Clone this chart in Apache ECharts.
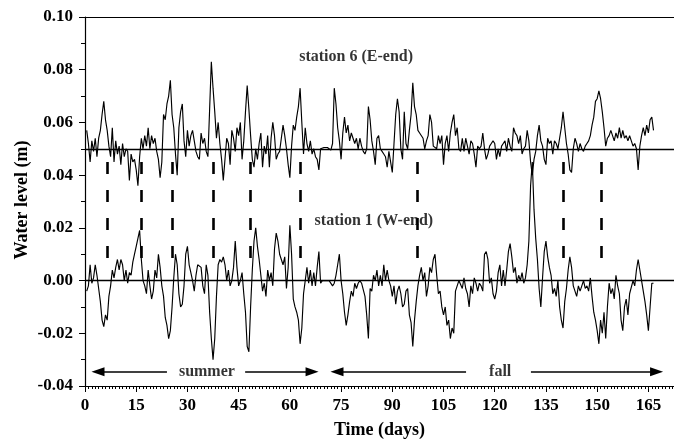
<!DOCTYPE html>
<html>
<head>
<meta charset="utf-8">
<script src="https://cdn.jsdelivr.net/npm/echarts@6/dist/echarts.min.js"></script>
<style>
  html, body { margin: 0; padding: 0; background: #fff; }
  #chart { width: 674px; height: 444px; }
</style>
</head>
<body>
<div id="chart"></div>
<script>
// Sampling grid of the water-level records (days)
const T0 = 0.5;
const STEP = 0.5;

// Station 6 (east end) water level, m
const station6 = [
  0.057,0.052,0.045,0.053,0.049,0.054,0.047,0.054,0.057,0.063,
  0.068,0.061,0.057,0.051,0.047,0.058,0.045,0.053,0.048,0.051,
  0.044,0.052,0.047,0.050,0.049,0.038,0.048,0.045,0.046,0.042,
  0.036,0.047,0.054,0.050,0.055,0.051,0.058,0.050,0.055,0.052,
  0.054,0.049,0.046,0.039,0.045,0.063,0.061,0.067,0.070,0.076,
  0.063,0.058,0.048,0.040,0.058,0.064,0.067,0.053,0.047,0.057,
  0.051,0.055,0.057,0.053,0.049,0.047,0.046,0.056,0.052,0.054,
  0.049,0.047,0.065,0.083,0.073,0.064,0.054,0.060,0.052,0.046,
  0.038,0.046,0.054,0.052,0.044,0.057,0.054,0.049,0.058,0.055,
  0.060,0.046,0.053,0.064,0.074,0.065,0.055,0.046,0.043,0.050,
  0.046,0.052,0.056,0.043,0.051,0.048,0.055,0.043,0.054,0.060,
  0.055,0.046,0.048,0.049,0.054,0.059,0.055,0.050,0.044,0.039,
  0.051,0.059,0.057,0.062,0.066,0.073,0.060,0.048,0.058,0.052,
  0.049,0.053,0.048,0.050,0.047,0.046,0.042,0.050,0.0505,0.0505,
  0.0505,0.0505,0.0505,0.0495,0.052,0.073,0.067,0.058,0.053,0.046,
  0.056,0.062,0.056,0.059,0.053,0.056,0.054,0.052,0.054,0.050,
  0.054,0.051,0.049,0.048,0.050,0.066,0.061,0.053,0.049,0.044,
  0.054,0.055,0.050,0.049,0.048,0.047,0.043,0.049,0.045,0.041,
  0.052,0.063,0.069,0.064,0.050,0.046,0.064,0.052,0.050,0.057,
  0.063,0.075,0.066,0.063,0.057,0.056,0.056,0.054,0.050,0.053,
  0.055,0.063,0.060,0.051,0.051,0.050,0.055,0.052,0.055,0.044,
  0.052,0.055,0.049,0.056,0.060,0.063,0.055,0.058,0.050,0.049,
  0.054,0.049,0.054,0.051,0.048,0.053,0.052,0.048,0.043,0.051,
  0.050,0.051,0.056,0.050,0.046,0.048,0.051,0.052,0.053,0.052,
  0.046,0.050,0.047,0.051,0.052,0.053,0.049,0.054,0.051,0.049,
  0.058,0.056,0.055,0.052,0.055,0.048,0.050,0.051,0.057,0.053,
  0.045,0.040,0.046,0.049,0.055,0.059,0.053,0.051,0.046,0.044,
  0.054,0.052,0.053,0.048,0.053,0.052,0.050,0.054,0.058,0.064,
  0.058,0.052,0.048,0.042,0.041,0.050,0.054,0.052,0.049,0.052,
  0.050,0.049,0.051,0.052,0.053,0.055,0.059,0.062,0.068,0.069,
  0.072,0.069,0.064,0.058,0.051,0.054,0.055,0.057,0.055,0.053,
  0.056,0.054,0.058,0.054,0.057,0.054,0.055,0.053,0.055,0.053,
  0.051,0.052,0.050,0.042,0.051,0.055,0.058,0.055,0.059,0.056,
  0.061,0.062,0.057
];

// Station 1 (west end) water level, m
const station1 = [
  -0.004,-0.002,0.006,-0.001,0.001,0.006,0.002,-0.003,-0.008,-0.015,
  -0.0175,-0.013,-0.015,-0.006,-0.002,0.004,0.001,0.005,0.008,0.004,
  0.008,0.006,0.000,0.004,-0.001,0.003,0.002,0.007,0.010,0.013,
  0.016,0.019,0.008,0.000,-0.002,-0.005,0.004,-0.002,-0.007,-0.004,
  0.004,0.001,0.010,0.005,-0.002,-0.006,-0.014,-0.017,-0.022,-0.019,
  -0.010,0.001,0.010,0.006,-0.005,-0.010,-0.009,-0.002,0.010,0.013,
  0.006,0.003,0.000,-0.004,0.002,0.006,0.006,0.005,-0.002,-0.005,
  0.006,0.002,-0.012,-0.022,-0.030,-0.022,-0.006,0.006,0.008,0.007,
  0.009,0.006,0.000,0.004,-0.002,0.000,0.005,0.015,0.005,-0.002,
  0.000,0.003,-0.005,-0.012,-0.025,-0.027,-0.010,0.004,0.015,0.020,
  0.013,0.008,0.002,-0.004,-0.001,-0.006,0.004,0.000,0.003,-0.002,
  0.012,0.018,0.015,0.010,0.008,0.006,0.009,-0.003,0.005,0.021,
  0.010,-0.007,-0.010,-0.012,-0.015,-0.024,-0.018,-0.005,0.000,0.005,
  -0.001,0.004,-0.002,0.003,-0.002,0.005,0.011,-0.001,0.000,0.000,
  0.000,0.000,0.000,0.000,-0.002,-0.001,0.002,0.006,0.010,0.000,
  -0.005,-0.012,-0.017,-0.013,-0.008,-0.004,-0.006,-0.001,-0.003,-0.001,
  0.000,-0.001,-0.001,-0.006,-0.013,-0.022,-0.003,-0.004,0.002,0.000,
  0.004,-0.002,0.002,-0.002,0.006,0.000,0.004,0.000,-0.002,-0.006,
  -0.002,-0.009,-0.004,-0.002,-0.005,-0.010,-0.009,-0.004,-0.003,-0.013,
  -0.016,-0.025,-0.015,-0.008,-0.002,0.002,0.005,0.000,0.003,-0.006,
  -0.002,0.005,0.003,0.008,0.010,0.002,-0.005,-0.004,-0.010,-0.013,
  -0.010,-0.017,-0.015,-0.022,-0.018,-0.020,-0.004,-0.002,0.000,0.000,
  -0.003,0.001,-0.003,-0.005,-0.010,-0.002,-0.005,0.001,-0.001,-0.004,
  -0.001,-0.002,-0.004,0.010,0.011,0.008,-0.001,0.001,-0.005,-0.007,
  -0.004,0.003,0.006,-0.002,0.004,-0.002,0.004,0.011,0.014,0.009,
  0.003,0.005,-0.001,0.002,0.000,0.003,-0.001,0.001,0.006,0.015,
  0.036,0.045,0.027,0.016,0.008,-0.003,-0.010,0.001,0.011,0.015,
  0.009,0.005,0.002,-0.005,-0.003,-0.006,0.000,-0.010,-0.015,-0.018,
  -0.008,-0.003,0.004,0.009,0.005,-0.002,-0.002,-0.006,-0.002,-0.004,
  -0.002,0.000,-0.003,-0.002,-0.004,0.001,-0.006,-0.012,-0.015,-0.019,
  -0.024,-0.015,-0.020,-0.012,-0.022,-0.010,-0.001,-0.005,-0.003,-0.007,
  0.002,-0.002,-0.005,-0.015,-0.019,-0.010,-0.007,-0.013,-0.005,-0.005,
  0.000,-0.002,0.004,0.008,0.004,0.000,-0.004,-0.008,-0.013,-0.019,
  -0.010,-0.001,-0.001
];

// Mean levels drawn as reference lines
const meanLevels = [0.05, 0.0];

// Days of the events marked by dashed connectors
const eventDays = [6.4, 16.4, 25.5, 37.5, 48.3, 63.0, 97.2, 140.0, 151.1];

// Season spans (days) for the arrows under the traces
const summerSpan = [3.8, 66.5];
const fallSpan = [73.8, 167.4];

const FONT = '"Liberation Serif", "Times New Roman", Times, serif';
const BLACK = '#000';

function toPairs(values) {
  return values.map((v, i) => [T0 + i * STEP, v]);
}

const ARROW_Y = -0.0346;
function arrowSeg(from, to) {
  return [
    { coord: [from, ARROW_Y], symbol: 'none', lineStyle: { color: BLACK, width: 1.5, type: 'solid' } },
    { coord: [to, ARROW_Y], symbol: 'triangle', symbolSize: [9, 13], itemStyle: { color: BLACK } }
  ];
}

const chart = echarts.init(document.getElementById('chart'), null, { renderer: 'canvas' });

const option = {
  animation: false,
  backgroundColor: '#fff',
  grid: { left: 85, right: 0, top: 17, bottom: 56 },
  // vertical axis title, placed left of the tick labels
  graphic: [{
    type: 'text',
    x: 22,
    y: 200,
    rotation: Math.PI / 2,
    silent: true,
    style: {
      text: 'Water level (m)',
      font: 'bold 18px ' + FONT,
      fill: BLACK,
      align: 'center',
      verticalAlign: 'middle'
    }
  }],
  xAxis: [{
    type: 'value',
    min: 0,
    max: 172.5,
    interval: 15,
    name: 'Time (days)',
    nameLocation: 'middle',
    nameGap: 35,
    nameTextStyle: { fontFamily: FONT, fontWeight: 'bold', fontSize: 18, color: BLACK },
    axisLine: { show: true, onZero: false, lineStyle: { color: BLACK, width: 1.2 } },
    axisTick: { show: true, length: 6, lineStyle: { color: BLACK, width: 1 } },
    minorTick: { show: true, splitNumber: 15, length: 3, lineStyle: { color: BLACK, width: 1 } },
    axisLabel: {
      fontFamily: FONT, fontWeight: 'bold', fontSize: 17, color: BLACK, margin: 11,
      showMaxLabel: false,
      formatter: v => (Math.abs(v % 15) < 1e-9 ? String(v) : '')
    },
    splitLine: { show: false }
  }, {
    type: 'value',
    position: 'top',
    min: 0,
    max: 172.5,
    axisLine: { show: true, onZero: false, lineStyle: { color: BLACK, width: 1.2 } },
    axisTick: { show: false },
    axisLabel: { show: false },
    splitLine: { show: false }
  }],
  yAxis: {
    type: 'value',
    min: -0.04,
    max: 0.10,
    interval: 0.02,
    axisLine: { show: true, onZero: false, lineStyle: { color: BLACK, width: 1.2 } },
    axisTick: { show: true, length: 6, lineStyle: { color: BLACK, width: 1 } },
    minorTick: { show: true, splitNumber: 2, length: 4, lineStyle: { color: BLACK, width: 1 } },
    axisLabel: {
      fontFamily: FONT, fontWeight: 'bold', fontSize: 17, color: BLACK, margin: 12,
      formatter: v => v.toFixed(2)
    },
    splitLine: { show: false }
  },
  series: [
    {
      name: 'station 6',
      type: 'line',
      data: toPairs(station6),
      showSymbol: false,
      lineStyle: { color: BLACK, width: 1.15 },
      silent: true,
      z: 3
    },
    {
      name: 'station 1',
      type: 'line',
      data: toPairs(station1),
      showSymbol: false,
      lineStyle: { color: BLACK, width: 1.15 },
      silent: true,
      z: 3
    },
    {
      // reference lines, event connectors and season arrows
      name: 'annotations',
      type: 'line',
      data: [],
      silent: true,
      markLine: {
        silent: true,
        animation: false,
        symbol: 'none',
        label: { show: false },
        emphasis: { disabled: true },
        data: [
          ...meanLevels.map(v => ({ yAxis: v, lineStyle: { color: BLACK, width: 1.3, type: 'solid' } })),
          ...eventDays.map(d => [
            { coord: [d, 0.045], lineStyle: { color: BLACK, width: 2.6, type: [12, 16] } },
            { coord: [d, 0.003] }
          ]),
          arrowSeg(24.0, summerSpan[0]),
          arrowSeg(46.9, summerSpan[1]),
          arrowSeg(111.6, fallSpan[0]),
          arrowSeg(130.6, fallSpan[1])
        ]
      },
      z: 2
    },
    {
      name: 'labels',
      type: 'scatter',
      symbolSize: 0,
      silent: true,
      label: {
        show: true,
        position: 'inside',
        formatter: p => p.name,
        fontFamily: FONT,
        fontWeight: 'bold',
        fontSize: 16,
        color: BLACK
      },
      data: [
        { name: 'station 6 (E-end)', value: [79.4, 0.0848] },
        { name: 'station 1 (W-end)', value: [84.6, 0.0226] },
        { name: 'summer', value: [35.7, ARROW_Y] },
        { name: 'fall', value: [121.6, ARROW_Y] }
      ],
      z: 4
    }
  ]
};

chart.setOption(option);
</script>
</body>
</html>
